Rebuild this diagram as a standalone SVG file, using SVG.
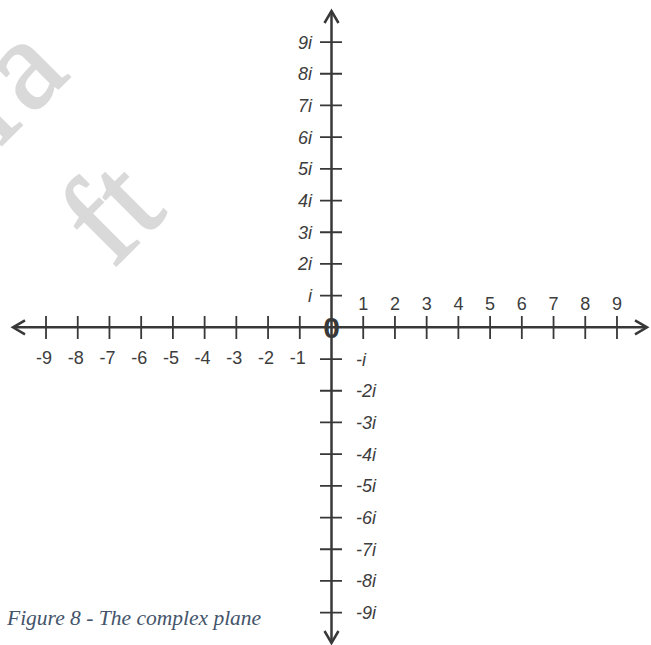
<svg xmlns="http://www.w3.org/2000/svg" width="651" height="645" viewBox="0 0 651 645">
<style>
.wm{font-family:"Liberation Serif","Times New Roman",serif;font-size:130px;fill:#d9d9d9;stroke:#d9d9d9;stroke-width:2}
.ax{stroke:#383838;stroke-width:2.5;fill:none}
.tk{stroke:#383838;stroke-width:1.8;fill:none}
.lb{font-family:"Liberation Sans",Arial,sans-serif;font-size:18px;fill:#3d3d3d}
.il{font-family:"Liberation Sans",Arial,sans-serif;font-size:18px;font-style:italic;fill:#3d3d3d}
.zero{font-family:"Liberation Sans",Arial,sans-serif;font-size:30px;font-weight:bold;fill:#383838;text-anchor:middle}
.cap{font-family:"Liberation Serif","Times New Roman",serif;font-size:21.5px;font-style:italic;fill:#44546A}
</style>
<defs>
<marker id="arr" markerUnits="userSpaceOnUse" viewBox="-15 -10 20 20" markerWidth="20" markerHeight="20" refX="0" refY="0" orient="auto-start-reverse">
<path d="M-12,-7 L0,0 L-12,7" fill="none" stroke="#383838" stroke-width="2.5"/>
</marker>
</defs>
<rect width="651" height="645" fill="#fff"/>
<g id="watermark" transform="rotate(-45)">
<text class="wm" x="-3" y="104" text-anchor="end">Dra</text>
<text class="wm" x="-111" y="270">ft</text>
</g>
<g id="connectors">
<line id="x-axis" class="ax" x1="13" y1="327.35" x2="647" y2="327.35" marker-start="url(#arr)" marker-end="url(#arr)"/>
<line id="y-axis" class="ax" x1="331.5" y1="11" x2="331.5" y2="643" marker-start="url(#arr)" marker-end="url(#arr)"/>
</g>
<g id="x-ticks">
<path class="tk" d="M46.02,316V339M77.74,316V339M109.46,316V339M141.18,316V339M172.9,316V339M204.62,316V339M236.34,316V339M268.06,316V339M299.78,316V339M363.22,316V339M394.94,316V339M426.66,316V339M458.38,316V339M490.1,316V339M521.82,316V339M553.54,316V339M585.26,316V339M616.98,316V339"/>
</g>
<g id="y-ticks">
<path class="tk" d="M320,42.05H342M320,73.75H342M320,105.45H342M320,137.15H342M320,168.85H342M320,200.55H342M320,232.25H342M320,263.95H342M320,295.65H342M320,359.05H342M320,390.75H342M320,422.45H342M320,454.15H342M320,485.85H342M320,517.55H342M320,549.25H342M320,580.95H342M320,612.65H342"/>
</g>
<g id="x-labels-neg" class="lb" text-anchor="middle">
<text x="44" y="364">-9</text>
<text x="75.7" y="364">-8</text>
<text x="107.5" y="364">-7</text>
<text x="139.2" y="364">-6</text>
<text x="170.9" y="364">-5</text>
<text x="202.6" y="364">-4</text>
<text x="234.3" y="364">-3</text>
<text x="266" y="364">-2</text>
<text x="297.8" y="364">-1</text>
</g>
<g id="x-labels-pos" class="lb" text-anchor="middle">
<text x="363.2" y="310">1</text>
<text x="394.9" y="310">2</text>
<text x="426.7" y="310">3</text>
<text x="458.4" y="310">4</text>
<text x="490.1" y="310">5</text>
<text x="521.8" y="310">6</text>
<text x="553.5" y="310">7</text>
<text x="585.3" y="310">8</text>
<text x="617" y="310">9</text>
</g>
<g id="y-labels-pos" class="il" text-anchor="end">
<text x="312" y="48.5">9i</text>
<text x="312" y="80.2">8i</text>
<text x="312" y="111.9">7i</text>
<text x="312" y="143.6">6i</text>
<text x="312" y="175.3">5i</text>
<text x="312" y="207">4i</text>
<text x="312" y="238.7">3i</text>
<text x="312" y="270.4">2i</text>
<text x="312" y="302.1">i</text>
</g>
<g id="y-labels-neg" class="il">
<text x="356" y="365.5">-i</text>
<text x="356" y="397.2">-2i</text>
<text x="356" y="428.9">-3i</text>
<text x="356" y="460.6">-4i</text>
<text x="356" y="492.3">-5i</text>
<text x="356" y="524">-6i</text>
<text x="356" y="555.7">-7i</text>
<text x="356" y="587.4">-8i</text>
<text x="356" y="619.1">-9i</text>
</g>
<g id="origin">
<text class="zero" x="331.5" y="337.5">0</text>
</g>
<g id="caption">
<text class="cap" x="7" y="625">Figure 8 - The complex plane</text>
</g>
</svg>
